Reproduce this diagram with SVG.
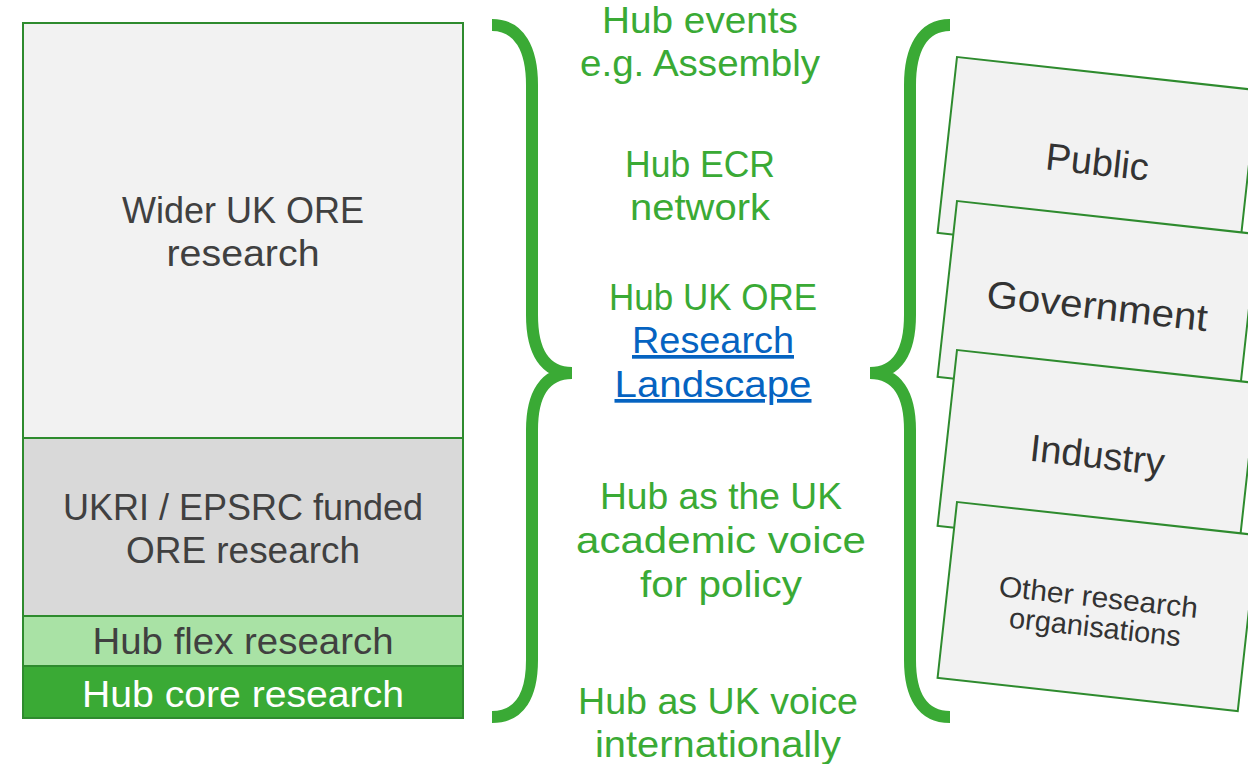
<svg xmlns="http://www.w3.org/2000/svg" width="1248" height="764" viewBox="0 0 1248 764">
  <style>
    .box { stroke: #2e8b2e; stroke-width: 2; }
    .dark { font-family: "Liberation Sans", Arial, sans-serif; font-size: 36px; fill: #404040; text-anchor: middle; }
    .white { font-family: "Liberation Sans", Arial, sans-serif; font-size: 37px; fill: #ffffff; text-anchor: middle; }
    .green { font-family: "Liberation Sans", Arial, sans-serif; font-size: 37px; fill: #3aaa35; text-anchor: middle; }
    .link { font-family: "Liberation Sans", Arial, sans-serif; font-size: 37px; fill: #0563c1; text-anchor: middle; text-decoration: underline; }
    .card { fill: #f2f2f2; stroke: #2e8b2e; stroke-width: 2; }
    .ctext { font-family: "Liberation Sans", Arial, sans-serif; font-size: 38px; fill: #333333; text-anchor: middle; }
    .csmall { font-family: "Liberation Sans", Arial, sans-serif; font-size: 29px; fill: #333333; text-anchor: middle; }
    .brace { fill: none; stroke: #3aaa35; stroke-width: 12; }
  </style>
  <rect width="1248" height="764" fill="#ffffff"/>

  <g id="wider">
    <rect class="box" x="23" y="23" width="440" height="415" fill="#f2f2f2"/>
    <text class="dark" x="243" y="223">Wider UK ORE</text>
    <text class="dark" x="243" y="266" textLength="153" lengthAdjust="spacingAndGlyphs">research</text>
  </g>
  <g id="ukri">
    <rect class="box" x="23" y="438" width="440" height="178" fill="#d9d9d9"/>
    <text class="dark" x="243" y="520">UKRI / EPSRC funded</text>
    <text class="dark" x="243" y="563" textLength="234" lengthAdjust="spacingAndGlyphs">ORE research</text>
  </g>
  <g id="flex">
    <rect class="box" x="23" y="616" width="440" height="50" fill="#a9e2a5"/>
    <text class="dark" x="243" y="654" font-size="37" textLength="301" lengthAdjust="spacingAndGlyphs">Hub flex research</text>
  </g>
  <g id="core">
    <rect class="box" x="23" y="666" width="440" height="52" fill="#3aaa35"/>
    <text class="white" x="243" y="707" textLength="322" lengthAdjust="spacingAndGlyphs">Hub core research</text>
  </g>

  <g id="connectors">
    <path class="brace" d="M492,25 C520,25 532,50 532,85 L532,315 C532,352 545,373 572,373 C545,373 532,394 532,430 L532,660 C532,695 520,717 492,717"/>
    <path class="brace" d="M950,25 C922,25 910,50 910,85 L910,315 C910,352 897,373 870,373 C897,373 910,394 910,430 L910,660 C910,695 922,717 950,717"/>
  </g>

  <g id="events">
    <text class="green" x="700" y="33" textLength="196" lengthAdjust="spacingAndGlyphs">Hub events</text>
    <text class="green" x="700" y="76" textLength="240" lengthAdjust="spacingAndGlyphs">e.g. Assembly</text>
  </g>
  <g id="ecr">
    <text class="green" x="700" y="177" textLength="150" lengthAdjust="spacingAndGlyphs">Hub ECR</text>
    <text class="green" x="700" y="220" textLength="140" lengthAdjust="spacingAndGlyphs">network</text>
  </g>
  <g id="landscape">
    <text class="green" x="713" y="310" textLength="208" lengthAdjust="spacingAndGlyphs">Hub UK ORE</text>
    <text class="link" x="713" y="353" textLength="162" lengthAdjust="spacingAndGlyphs">Research</text>
    <text class="link" x="713" y="397" textLength="197" lengthAdjust="spacingAndGlyphs">Landscape</text>
  </g>
  <g id="policy">
    <text class="green" x="721" y="509" textLength="242" lengthAdjust="spacingAndGlyphs">Hub as the UK</text>
    <text class="green" x="721" y="553" textLength="290" lengthAdjust="spacingAndGlyphs">academic voice</text>
    <text class="green" x="721" y="597" textLength="162" lengthAdjust="spacingAndGlyphs">for policy</text>
  </g>
  <g id="international">
    <text class="green" x="718" y="714" textLength="280" lengthAdjust="spacingAndGlyphs">Hub as UK voice</text>
    <text class="green" x="718" y="757" textLength="246" lengthAdjust="spacingAndGlyphs">internationally</text>
  </g>

  <g id="public" transform="translate(957,57) rotate(6.3)">
    <rect class="card" x="0" y="0" width="302" height="177"/>
    <text class="ctext" x="151" y="102">Public</text>
  </g>
  <g id="government" transform="translate(957,201) rotate(6.3)">
    <rect class="card" x="0" y="0" width="302" height="177"/>
    <text class="ctext" x="151" y="102" textLength="222" lengthAdjust="spacingAndGlyphs">Government</text>
  </g>
  <g id="industry" transform="translate(957,350) rotate(6.3)">
    <rect class="card" x="0" y="0" width="302" height="177"/>
    <text class="ctext" x="151" y="102">Industry</text>
  </g>
  <g id="other" transform="translate(957,502) rotate(6.3)">
    <rect class="card" x="0" y="0" width="302" height="177"/>
    <text class="csmall" x="151" y="89" textLength="200" lengthAdjust="spacingAndGlyphs">Other research</text>
    <text class="csmall" x="151" y="119">organisations</text>
  </g>
</svg>
